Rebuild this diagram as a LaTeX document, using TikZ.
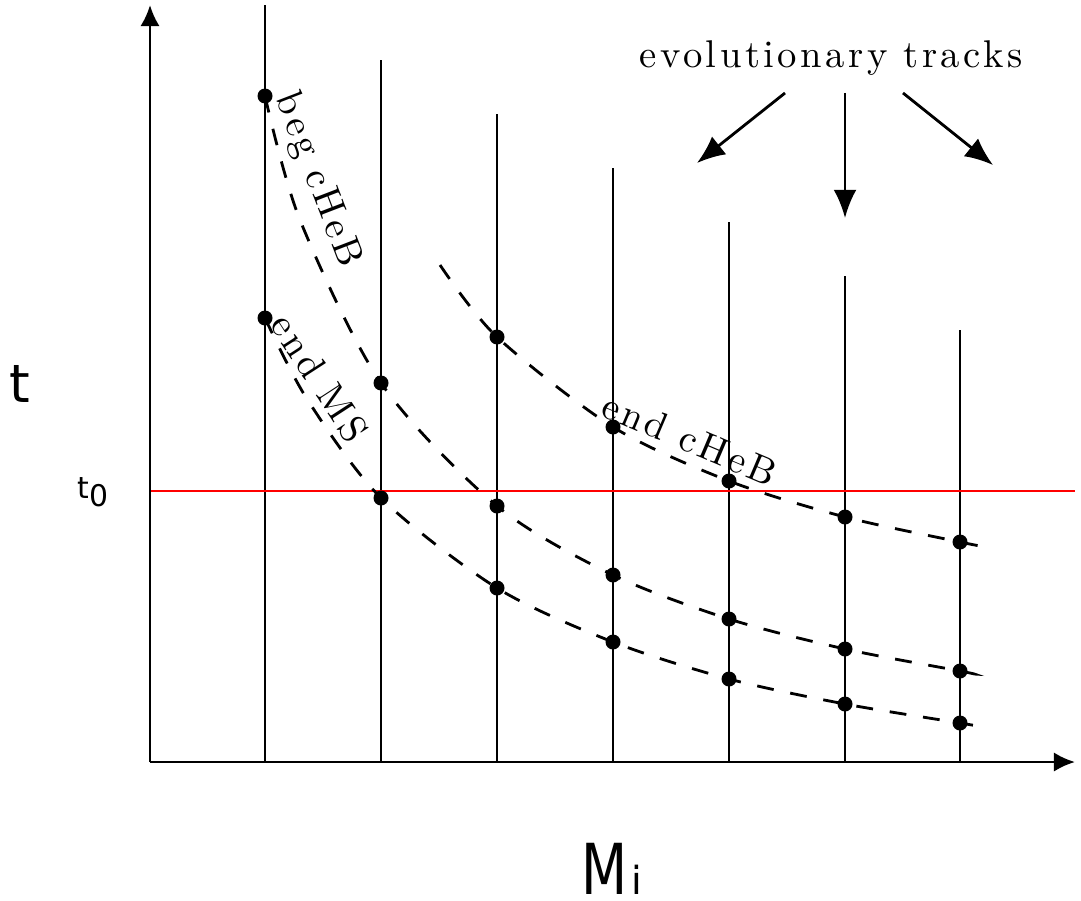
\documentclass[tikz,border=0pt]{standalone}
\usepackage{fontspec}
\usepackage{tikz}
\usetikzlibrary{arrows.meta}
\newfontfamily\sanslabel{DejaVu Sans}
\newfontfamily\phasefont{lmroman10-regular.otf}[LetterSpace=9]

\begin{document}
\begin{tikzpicture}[
    track/.style={line width=0.8pt},
    axis/.style={line width=0.8pt,-{Latex[length=6pt,width=5.5pt]}},
    pointer/.style={line width=0.8pt,-{Latex[length=8pt,width=6.5pt]}},
    curve/.style={line width=0.8pt,dash pattern=on 4.8pt off 4.8pt},
    dot/.style={circle,fill,inner sep=0pt,minimum size=0.15cm},
    phase/.style={font=\phasefont\fontsize{11}{13}\selectfont,inner sep=0pt}]
        \useasboundingbox (0,0) rectangle (10.81,9.00);
        \coordinate (O) at (1.50,1.38);
        \coordinate (ytop) at (1.50,8.95);
        \coordinate (xend) at (10.75,1.38);
        \foreach \x/\top in {2.65/8.95,3.81/8.40,4.97/7.86,6.13/7.32,7.29/6.78,8.45/6.24,9.60/5.70}
            \draw[track] (\x,1.38) -- (\x,\top);
        \coordinate (r0) at (1.50,4.09); \coordinate (r1) at (10.75,4.09);
        \draw[red,line width=0.8pt] (r0) -- (r1);
        \draw[axis] (O) -- (ytop); \draw[axis] (O) -- (xend);
        \foreach \n/\x/\y in {1/2.65/8.04,2/3.81/5.17,3/4.97/3.94,4/6.13/3.25,5/7.29/2.81,6/8.45/2.51,7/9.60/2.29}
            \coordinate (b\n) at (\x,\y);
        \foreach \n/\x/\y in {1/2.65/5.82,2/3.81/4.02,3/4.97/3.12,4/6.13/2.58,5/7.29/2.21,6/8.45/1.96,7/9.60/1.77}
            \coordinate (m\n) at (\x,\y);
        \foreach \n/\x/\y in {3/4.97/5.63,4/6.13/4.73,5/7.29/4.19,6/8.45/3.83,7/9.60/3.58}
            \coordinate (h\n) at (\x,\y);
        \draw[curve] plot[smooth] coordinates {(b1) (3.00,6.80) (b2) (b3) (b4) (b5) (b6) (b7) (9.74,2.26)};
        \draw[curve] plot[smooth] coordinates {(m1) (3.07,5.01) (m2) (m3) (m4) (m5) (m6) (m7) (9.83,1.73)};
        \draw[curve] plot[smooth] coordinates {(4.40,6.35) (h3) (h4) (h5) (h6) (h7) (9.81,3.54)};
        \foreach \n in {1,...,7} \node[dot] (db\n) at (b\n) {};
        \foreach \n in {1,...,7} \node[dot] (dm\n) at (m\n) {};
        \foreach \n in {3,...,7} \node[dot] (dh\n) at (h\n) {};
        \node[phase,rotate=-69] (lbeg) at (3.17,7.20) {beg cHeB};
        \node[phase,rotate=-57] (lms) at (3.20,5.22) {end MS};
        \node[phase,rotate=-23] (lche) at (6.90,4.61) {end cHeB};
        \node[phase] (evo) at (8.31,8.42) {evolutionary tracks};
        \coordinate (s1) at (7.85,8.07); \coordinate (e1) at (6.97,7.37);
        \coordinate (s2) at (8.45,8.07); \coordinate (e2) at (8.45,6.82);
        \coordinate (s3) at (9.03,8.07); \coordinate (e3) at (9.93,7.35);
        \foreach \i in {1,2,3} \draw[pointer] (s\i) -- (e\i);
        \node[font=\sanslabel\fontsize{15}{18}\selectfont,anchor=base,inner sep=0pt] (tlab) at (0.20,4.98) {t};
        \node[font=\sanslabel\fontsize{8.5}{10}\selectfont,anchor=base,inner sep=0pt] (t0lab) at (0.93,4.02) {t\raisebox{-2.5pt}{0}};
        \node[font=\sanslabel\fontsize{20}{22}\selectfont,anchor=base,inner sep=0pt] (mlab) at (6.12,0.06)
            {\scalebox{0.76}[1]{M}\kern1pt{\fontsize{11}{12}\selectfont i}};
    \end{tikzpicture}
\end{document}
